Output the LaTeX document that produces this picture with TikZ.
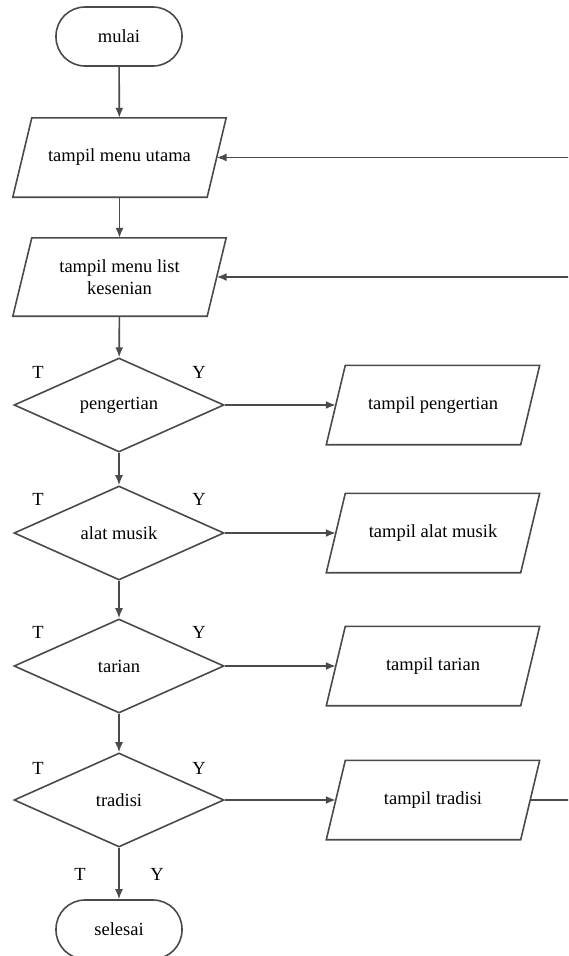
\documentclass[tikz,border=0pt]{standalone}
\usepackage{fontspec}
\setmainfont{Liberation Serif}
\usetikzlibrary{shapes.geometric,arrows.meta}
\definecolor{ln}{HTML}{4A4A4A}
\begin{document}
\begin{tikzpicture}[x=1pt,y=-1pt,
  every node/.style={font=\fontsize{18.5}{22}\selectfont, text=black},
  base/.style={draw=ln, line width=1.6pt, inner sep=0pt},
  term/.style={base, rectangle, rounded corners=29pt, minimum width=126pt, minimum height=59pt},
  io/.style={rectangle, inner sep=0pt, minimum width=194pt, minimum height=79pt, align=center,
     append after command={\pgfextra{\draw[draw=ln, line width=1.6pt, line join=miter]
        ([xshift=9.5pt]\tikzlastnode.north west) -- ([xshift=9.5pt]\tikzlastnode.north east)
        -- ([xshift=-9.5pt]\tikzlastnode.south east) -- ([xshift=-9.5pt]\tikzlastnode.south west) -- cycle;}}},
  dec/.style={base, diamond, aspect=2.2, minimum width=210pt, minimum height=94pt},
  lab/.style={inner sep=0pt},
  arr/.style={draw=ln, line width=1.6pt, -{Latex[length=10pt,width=8pt]}},
  ln/.style={draw=ln, line width=1.6pt}]
\useasboundingbox (0,0) rectangle (568,956);
\begin{scope}
\clip (0,0) rectangle (568,956);
\node[term] (mulai) at (119,36.5) {mulai};
\node[io] (p1) at (119.5,157.5) {tampil menu utama};
\node[io, minimum height=78pt] (p2) at (119.5,277) {tampil menu list\\kesenian};
\node[dec] (d1) at (119,405) {pengertian};
\node[dec] (d2) at (119,533) {alat musik};
\node[dec] (d3) at (119,666) {tarian};
\node[dec] (d4) at (119,800) {tradisi};
\node[term] (selesai) at (119,929.5) {selesai};
\node[io] (o1) at (433,405) {tampil pengertian};
\node[io] (o2) at (433,533) {tampil alat musik};
\node[io] (o3) at (433,666) {tampil tarian};
\node[io] (o4) at (433,800) {tampil tradisi};
\coordinate (r1) at (572,157.5);
\coordinate (r2) at (572,277);
\coordinate (r4) at (572,800);
\draw[arr] (mulai) -- (p1);
\draw[arr] (p1) -- (p2);
\draw[arr] (p2) -- (d1);
\draw[arr] (d1) -- (d2);
\draw[arr] (d2) -- (d3);
\draw[arr] (d3) -- (d4);
\draw[arr] (d4) -- (selesai);
\draw[arr] (d1.east) -- (o1.west);
\draw[arr] (d2.east) -- (o2.west);
\draw[arr] (d3.east) -- (o3.west);
\draw[arr] (d4.east) -- (o4.west);
\draw[arr] (r1) -- (p1.east);
\draw[arr] (r2) -- (p2.east);
\draw[ln] (o4.east) -- (r4);
\node[lab] (t1) at (38,372) {T};
\node[lab] (y1) at (199,372) {Y};
\node[lab] (t2) at (38,499) {T};
\node[lab] (y2) at (199,499) {Y};
\node[lab] (t3) at (38,632) {T};
\node[lab] (y3) at (199,632) {Y};
\node[lab] (t4) at (38,768) {T};
\node[lab] (y4) at (199,768) {Y};
\node[lab] (t5) at (80,874) {T};
\node[lab] (y5) at (157,874) {Y};
\end{scope}
\end{tikzpicture}
\end{document}
